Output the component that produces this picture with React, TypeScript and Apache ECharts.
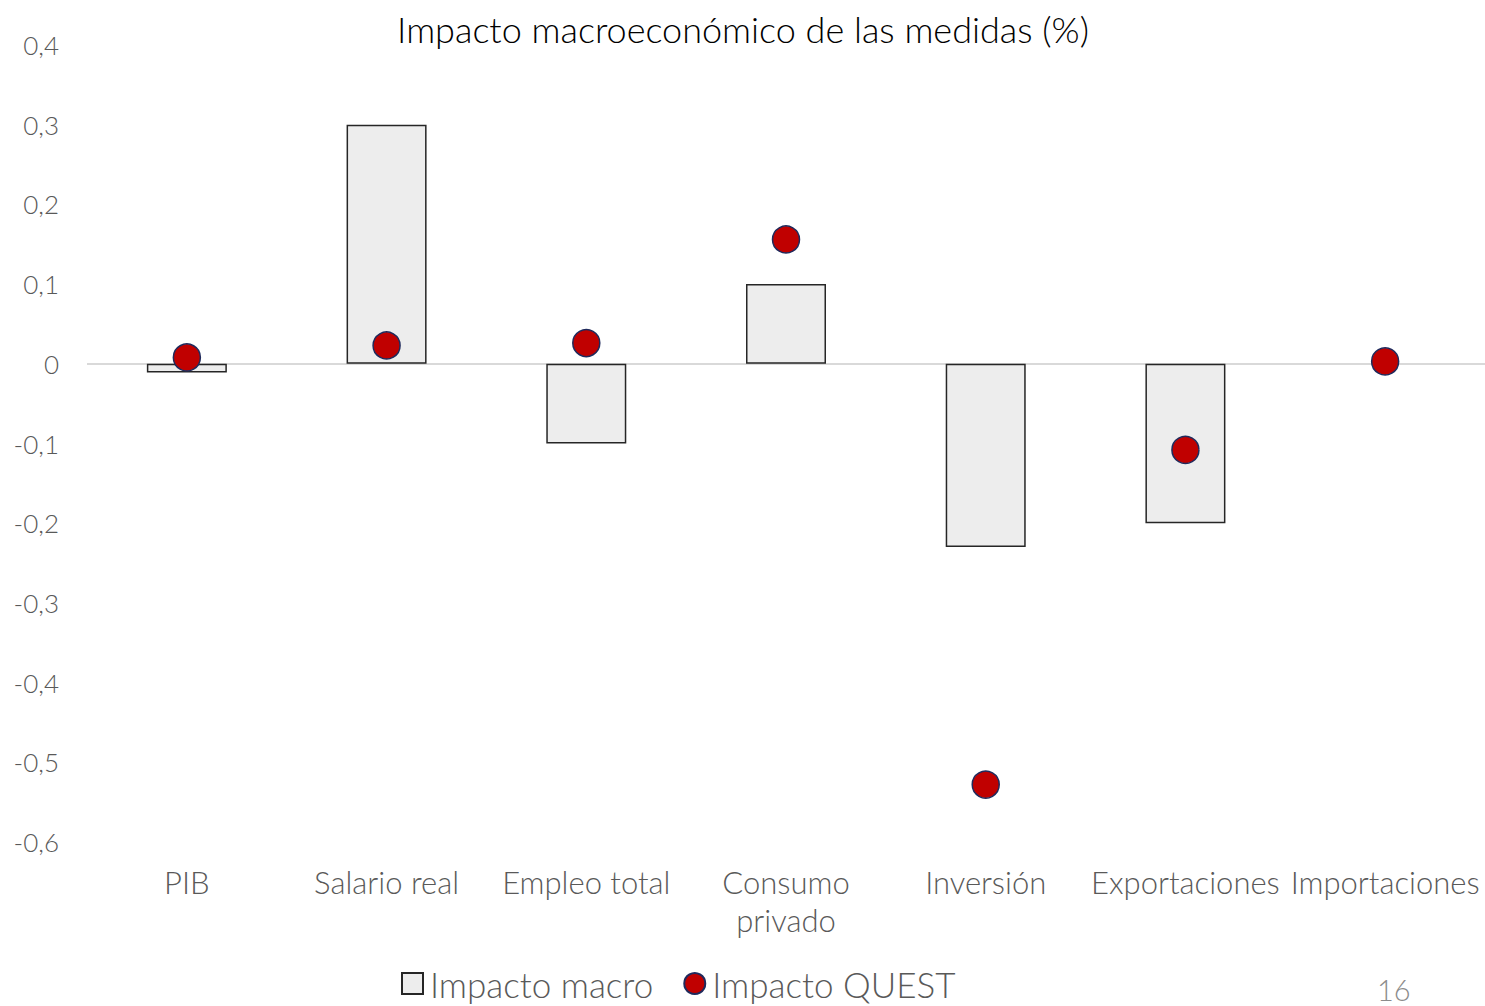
import React, { useEffect, useRef } from "react";
import * as echarts from "echarts";

const categories = ["PIB", "Salario real", "Empleo total", "Consumo\nprivado", "Inversión", "Exportaciones", "Importaciones"];
const impactoMacro = [-0.011, 0.3, -0.1, 0.1, -0.23, -0.2, 0];
const impactoQuest = [0.008, 0.023, 0.026, 0.156, -0.528, -0.108, 0.003];
const titleText = "Impacto macroeconómico de las medidas (%)";
const pageNumber = "16";

const FONT = "Lato, 'Open Sans', sans-serif";

export default function App() {
  const ref = useRef<HTMLDivElement>(null);
  useEffect(() => {
    if (!ref.current) return;
    const chart = echarts.init(ref.current, null, { renderer: "svg" });
    chart.setOption({
      animation: false,
      backgroundColor: "#ffffff",
      title: {
        text: titleText,
        left: 738,
        top: 6,
        textAlign: "center",
        textStyle: { fontFamily: FONT, fontWeight: 300, fontSize: 36, color: "#000000" },
      },
      grid: { left: 87, right: 0, top: 45, bottom: 164, containLabel: false },
      legend: {
        bottom: 0,
        left: 396,
        itemGap: 30,
        itemWidth: 21,
        itemHeight: 21,
        textStyle: { fontFamily: FONT, fontWeight: 300, fontSize: 35, color: "#595959", padding: [0, 0, 0, 2] },
        data: [
          { name: "Impacto macro", icon: "rect" },
          { name: "Impacto QUEST", icon: "circle" },
        ],
      },
      xAxis: {
        type: "category",
        data: categories,
        position: "bottom",
        axisLine: { show: false },
        axisTick: { show: false },
        axisLabel: {
          interval: 0,
          margin: 0,
          fontFamily: FONT,
          fontWeight: 300,
          fontSize: 31,
          color: "#595959",
          lineHeight: 38,
          verticalAlign: "top",
          padding: [21, 0, 0, 0],
        },
      },
      yAxis: {
        type: "value",
        min: -0.6,
        max: 0.4,
        interval: 0.1,
        axisLine: { show: false },
        axisTick: { show: false },
        splitLine: { show: false },
        axisLabel: {
          margin: 28,
          fontFamily: FONT,
          fontWeight: 300,
          fontSize: 26,
          color: "#595959",
          formatter: (v: number) => {
            const r = Math.round(v * 10) / 10;
            return r === 0 ? "0" : String(r).replace(".", ",");
          },
        },
      },
      series: [
        {
          name: "Impacto macro",
          type: "bar",
          data: impactoMacro.map((v) => (v === 0 ? { value: v, itemStyle: { opacity: 0 } } : v)),
          barWidth: 80,
          itemStyle: { color: "#ededed", borderColor: "#262626", borderWidth: 1.5 },
          markLine: {
            silent: true,
            symbol: "none",
            label: { show: false },
            lineStyle: { color: "#d9d9d9", width: 2, type: "solid" },
            data: [{ yAxis: 0 }],
            z: 1,
          },
          z: 2,
        },
        {
          name: "Impacto QUEST",
          type: "scatter",
          data: impactoQuest,
          symbol: "circle",
          symbolSize: 27,
          itemStyle: { color: "#c00000", borderColor: "#1f2a5c", borderWidth: 1.5, opacity: 1 },
          z: 5,
        },
      ],
      graphic: [
        {
          type: "text",
          left: 1377,
          top: 975,
          style: { text: pageNumber, fontFamily: FONT, fontWeight: 300, fontSize: 29, fill: "#8c8c8c" },
        },
      ],
    });
    return () => chart.dispose();
  }, []);
  return <div ref={ref} style={{ position: "fixed", left: 0, top: 0, width: 1485, height: 1006 }} />;
}
